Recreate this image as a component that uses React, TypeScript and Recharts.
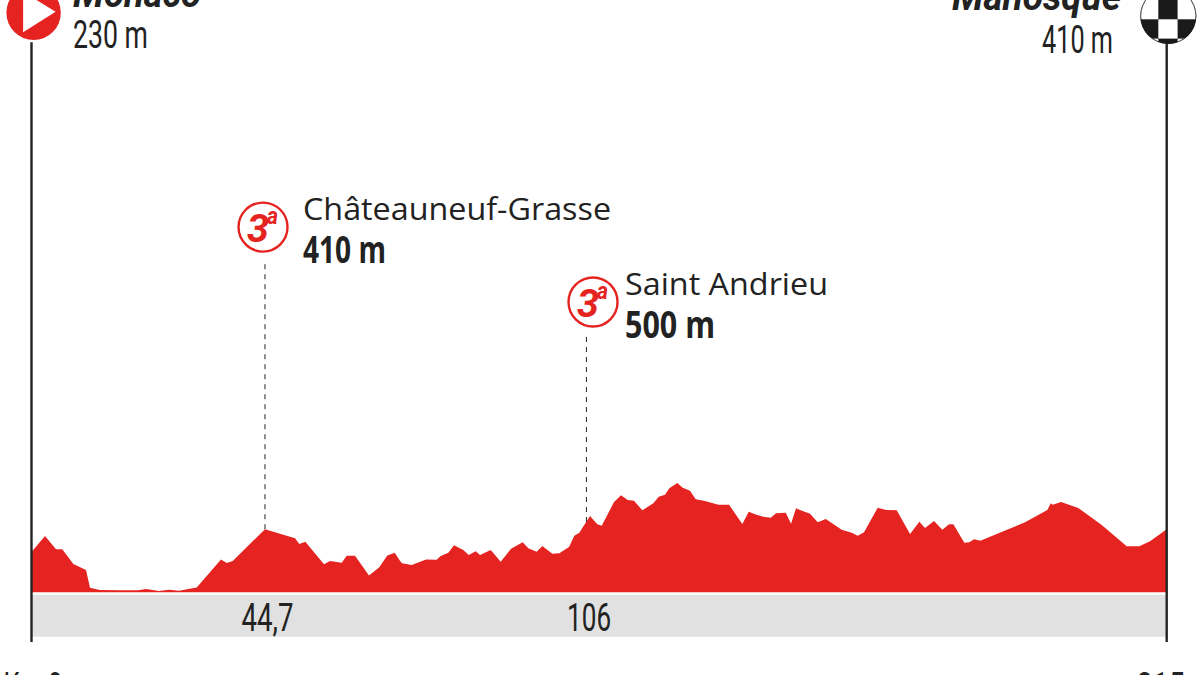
import { AreaChart, Area, XAxis, YAxis, ReferenceArea, ReferenceLine, ReferenceDot } from 'recharts';

const kmPoints = [
    0, 2.56, 4.64, 5.83, 7.92, 10.32, 11.08, 12.97, 16.76, 20.17, 21.69, 24.15, 26.04, 27.94, 31.29, 35.89, 36.97, 38.11,
    44.22, 49.91, 50.72, 51.86, 55.4, 56.54, 58.75, 59.7, 61.27, 63.92, 65.87, 67.39, 68.79, 69.79, 70.17, 72.01, 74.72,
    76.74, 77.5, 78.94, 80.02, 81.78, 82.8, 84.13, 84.95, 86.97, 88.87, 90.82, 93.03, 94.09, 95.68, 96.75, 98.64, 99.97,
    101.8, 102.81, 103.75, 105.78, 107.16, 108, 110.33, 111.65, 112.92, 114.11, 115.69, 117.77, 118.79, 119.98, 120.8,
    122.31, 123.34, 124.72, 125.8, 127.56, 130.08, 132.11, 134.63, 135.84, 137.03, 138.6, 140, 141.01, 142.85, 143.85,
    144.8, 145.55, 147.45, 148.91, 150.42, 153.45, 155.35, 156.48, 157.68, 160.27, 161.84, 163.87, 166.39, 168.15,
    169.23, 170.93, 172.51, 173.77, 174.59, 176.67, 177.62, 178.51, 179.7, 188.17, 192.39, 193.04, 193.41, 194.99,
    198.26, 202.69, 207.43, 209.82, 211.84, 215,
];
const elevations = [
    262, 366, 280, 280, 184, 145, 30, 15, 13, 13, 21, 8, 17, 10, 32, 214, 190, 203,
    410, 351, 314, 329, 182, 203, 192, 238, 238, 110, 163, 240, 257, 205, 189, 177, 214,
    212, 236, 257, 306, 275, 242, 267, 242, 275, 199, 283, 325, 286, 264, 301, 251, 254,
    294, 368, 387, 496, 442, 433, 587, 631, 600, 595, 533, 579, 621, 634, 676,
    710, 680, 660, 605, 593, 569, 569, 444, 524, 507, 491, 485, 514, 517, 446,
    546, 535, 511, 455, 476, 407, 387, 368, 390, 550, 535, 533, 379, 459,
    418, 463, 407, 442, 442, 322, 325, 345, 335, 455, 535, 579, 569, 587,
    548, 437, 299, 299, 332, 410,
];
const profile = kmPoints.map((km, i) => ({ km, elevation: elevations[i] }));

const passKm = [44.22, 105.1];
const passElevations = [410, 457];
const passNames = ['Châteauneuf-Grasse', 'Saint Andrieu'];
const passHeights = ['410 m', '500 m'];
const passLabelKm = [44.7, 105.6];
const passLabels = ['44,7', '106'];
const axisTicks = [0, 215];
const axisTickLabels = ['Km 0', '215'];

const RED = '#e52421';
const DARK = '#222222';
const NARROW = "'Liberation Sans Narrow', Roboto, sans-serif";
const OPEN = "'Open Sans', sans-serif";

// y axis maps to pixels at 6.5 m per px, baseline at y=592
const Y_DOMAIN = [-323, 3850];
const BAND_TOP = -16;
const BAND_BOTTOM = -289;
const LABEL_ELEV = -250;
const MARKER_ELEV = [2374, 1887];
const MARKER_KM = [43.85, 106.35];
const DASH_TOP = [2160, 1672];
const NAME_X = [40, 32];
const NAME_WIDTH = [308, 203];
const HEIGHT_WIDTH = [83, 90];

function Txt({ x, y, w, size, family = NARROW, weight = 400, italic = false, anchor = 'start', fill = DARK, children }: any) {
    return (
        <text
            x={x}
            y={y}
            fontFamily={family}
            fontSize={size}
            fontWeight={weight}
            fontStyle={italic ? 'italic' : 'normal'}
            textAnchor={anchor}
            fill={fill}
            textLength={w}
            lengthAdjust="spacingAndGlyphs"
        >
            {children}
        </text>
    );
}

function PassMarker({ cx, cy, index }: any) {
    return (
        <g>
            <circle cx={cx} cy={cy} r={24.5} fill="#fff" stroke={RED} strokeWidth={2.4} />
            <Txt x={cx - 16} y={cy + 14.5} w={22} size={39} weight={700} italic fill={RED}>3</Txt>
            <Txt x={cx + 4} y={cy - 3} w={11} size={23} weight={700} italic fill={RED}>a</Txt>
            <Txt x={cx + NAME_X[index]} y={cy - 7} w={NAME_WIDTH[index]} size={31} family={OPEN}>{passNames[index]}</Txt>
            <Txt x={cx + NAME_X[index]} y={cy + 36} w={HEIGHT_WIDTH[index]} size={38} family={OPEN} weight={700}>{passHeights[index]}</Txt>
        </g>
    );
}

function StartMarker({ cx, cy }: any) {
    return (
        <g>
            <circle cx={cx} cy={cy} r={27.2} fill={RED} />
            <polygon points={`${cx - 10.5},${cy - 21} ${cx + 22},${cy - 1} ${cx - 10.5},${cy + 19.5}`} fill="#fff" />
            <Txt x={73} y={7} w={128} size={38} weight={700} italic>Monaco</Txt>
            <Txt x={73} y={48} w={75} size={39}>230 m</Txt>
        </g>
    );
}

function FinishMarker({ cx, cy }: any) {
    const mid = cx + 1.6;
    const left = mid - 10;
    const top = cy - 16;
    const cell = 19.3;
    const whites = [[-1, 0], [1, 0], [0, 1], [0, -1], [-1, 2], [1, 2]];
    return (
        <g>
            <defs>
                <clipPath id="finish-clip">
                    <circle cx={mid} cy={cy} r={28} />
                </clipPath>
            </defs>
            <circle cx={mid} cy={cy} r={28} fill="#1a1a1a" />
            <g clipPath="url(#finish-clip)">
                {whites.map(([c, r]) => (
                    <rect key={`${c}-${r}`} x={left + c * cell} y={top + r * cell} width={cell} height={cell} fill="#fff" />
                ))}
            </g>
            <circle cx={mid} cy={cy} r={27.6} fill="none" stroke="#1a1a1a" strokeWidth={0.8} />
            <Txt x={1121} y={9.5} w={169} size={38} weight={700} italic anchor="end">Manosque</Txt>
            <Txt x={1113} y={53} w={71} size={39} anchor="end">410 m</Txt>
        </g>
    );
}

function BandLabel({ cx, cy, index }: any) {
    return <Txt x={cx} y={cy} w={index === 0 ? 52 : 44} size={39} anchor="middle">{passLabels[index]}</Txt>;
}

function KmTick({ x, index }: any) {
    return index === 0 ? (
        <Txt x={x - 28} y={700} w={59} size={39}>{axisTickLabels[0]}</Txt>
    ) : (
        <Txt x={x + 18} y={700} w={48} size={39} anchor="end">{axisTickLabels[1]}</Txt>
    );
}

export default function App() {
    return (
        <div style={{ position: 'absolute', left: 0, top: 0, width: 1200, height: 675, background: '#fff' }}>
            <AreaChart width={1200} height={675} data={profile} margin={{ top: 0, right: 33.3, bottom: 0, left: 31.5 }}>
                <XAxis
                    dataKey="km"
                    type="number"
                    domain={[0, 215]}
                    ticks={axisTicks}
                    height={33}
                    axisLine={false}
                    tickLine={false}
                    interval={0}
                    tick={<KmTick />}
                />
                <YAxis hide domain={Y_DOMAIN} allowDataOverflow />
                <ReferenceArea x1={0} x2={215} y1={BAND_BOTTOM} y2={BAND_TOP} fill="#e1e1e1" fillOpacity={1} stroke="none" />
                <Area
                    type="linear"
                    dataKey="elevation"
                    stroke="none"
                    fill={RED}
                    fillOpacity={1}
                    baseValue={0}
                    dot={false}
                    activeDot={false}
                    isAnimationActive={false}
                />
                <ReferenceLine segment={[{ x: 0, y: -323 }, { x: 0, y: 3575 }]} stroke={DARK} strokeWidth={2.4} />
                <ReferenceLine segment={[{ x: 215, y: -323 }, { x: 215, y: 3565 }]} stroke={DARK} strokeWidth={2.4} />
                {passKm.map((km, i) => (
                    <ReferenceLine
                        key={km}
                        segment={[{ x: km, y: passElevations[i] }, { x: km, y: DASH_TOP[i] }]}
                        stroke={DARK}
                        strokeWidth={1}
                        strokeDasharray="5 5"
                    />
                ))}
                {MARKER_KM.map((km, i) => (
                    <ReferenceDot key={km} x={km} y={MARKER_ELEV[i]} r={0} shape={(p: any) => <PassMarker {...p} index={i} />} />
                ))}
                {passLabelKm.map((km, i) => (
                    <ReferenceDot key={km} x={km} y={LABEL_ELEV} r={0} shape={(p: any) => <BandLabel {...p} index={i} />} />
                ))}
                <ReferenceDot x={0.4} y={3767} r={0} shape={(p: any) => <StartMarker {...p} />} />
                <ReferenceDot x={215} y={3746} r={0} shape={(p: any) => <FinishMarker {...p} />} />
            </AreaChart>
        </div>
    );
}
